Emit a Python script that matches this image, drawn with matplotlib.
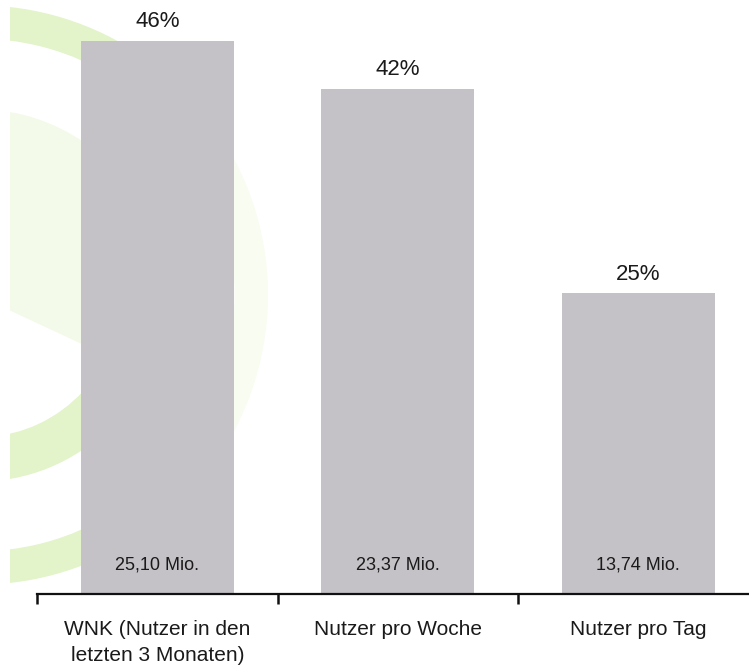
import matplotlib
matplotlib.use("Agg")
import matplotlib.pyplot as plt
from matplotlib.patches import Wedge
from matplotlib.transforms import IdentityTransform, Bbox

plt.rcParams['font.family'] = ['Liberation Sans', 'DejaVu Sans']

categories = ["WNK (Nutzer in den\nletzten 3 Monaten)", "Nutzer pro Woche", "Nutzer pro Tag"]
shares = [46, 42, 25]
share_labels = ["46%", "42%", "25%"]
users = ["25,10 Mio.", "23,37 Mio.", "13,74 Mio."]

bar_color = "#c4c2c6"
text_color = "#1a1a1a"

fig = plt.figure(figsize=(7.49, 6.67), dpi=100)
ax = fig.add_axes([37/749, 73/667, 1 - 37/749, 577/667])
ax.patch.set_visible(False)

# faint green watermark rings behind the chart (pixel coords)
clip = Bbox([[10, 0], [749, 667]])
cx, cy = -21.7, 372
rings = [
    Wedge((cx, cy), 289, 40, 320, width=32, color="#e3f4cb"),
    Wedge((cx, cy), 289, -40, 40, width=32, color="#f8fcf1"),
    Wedge((cx, cy), 185, -25, 110, color="#f4faea"),
    Wedge((cx, cy), 186, 250, 340, width=43, color="#e3f4cb"),
]
for r in rings:
    r.set_transform(IdentityTransform())
    r.set_clip_box(clip)
    r.set_zorder(-5)
    fig.add_artist(r)

x = list(range(len(categories)))
ax.bar(x, shares, width=0.636, color=bar_color, zorder=2)

for xi, v, lab, u in zip(x, shares, share_labels, users):
    ax.text(xi, v + 1.6, lab, ha="center", va="center", fontsize=16, color=text_color)
    ax.text(xi, 2.4, u, ha="center", va="center", fontsize=13, color=text_color)

ax.set_xlim(-0.5, 2.46)
ax.set_ylim(0, 48)

for s in ["top", "right", "left"]:
    ax.spines[s].set_visible(False)
ax.spines["bottom"].set_linewidth(1.6)
ax.spines["bottom"].set_color("#111111")
ax.set_yticks([])

ax.set_xticks([-0.5, 0.5, 1.5])
ax.set_xticklabels([])
ax.tick_params(axis="x", which="major", direction="out", length=7, width=1.8, color="#111111")
ax.set_xticks(x, minor=True)
ax.set_xticklabels(categories, minor=True, fontsize=15, color=text_color, linespacing=1.45)
ax.tick_params(axis="x", which="minor", length=0, pad=19)

fig.savefig("out.png", dpi=100)
